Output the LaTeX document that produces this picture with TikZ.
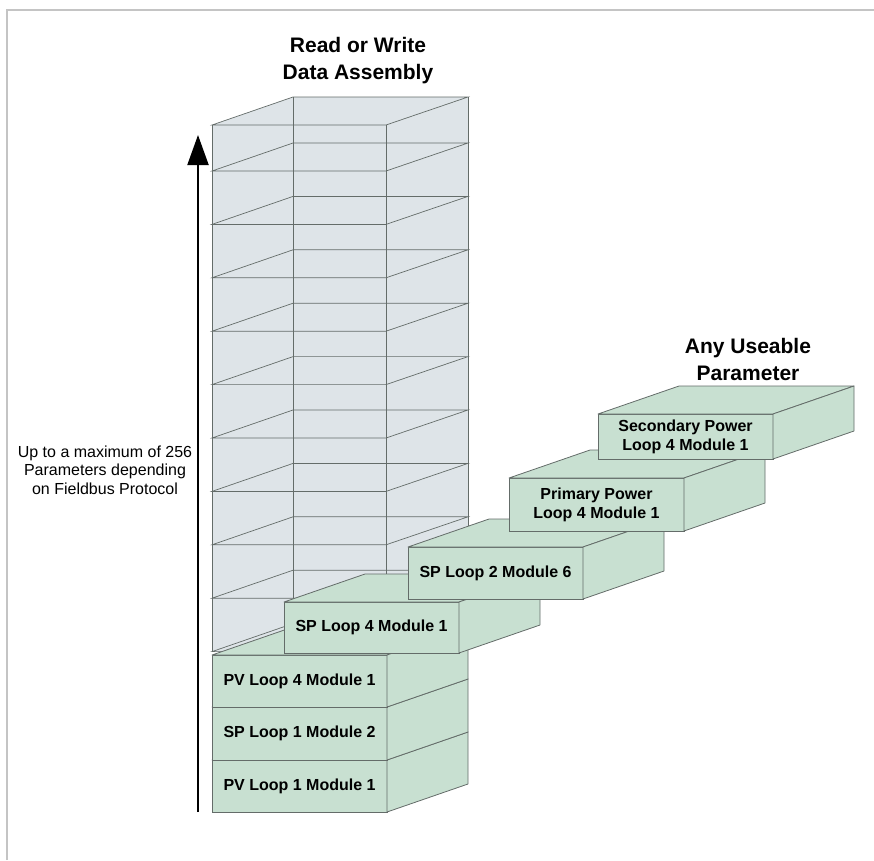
\documentclass[tikz,border=0pt]{standalone}
\usepackage{fontspec}
\setmainfont{Liberation Sans}
\usetikzlibrary{arrows.meta}
\definecolor{cellfill}{RGB}{222,228,232}
\definecolor{boxfill}{RGB}{200,224,209}
\definecolor{edgegray}{RGB}{100,108,105}
\definecolor{framegray}{RGB}{196,196,196}
\tikzset{
  boxfront/.style={draw=edgegray, fill=boxfill, line width=0.8pt, minimum width=175pt,
    inner sep=0pt, outer sep=0pt, align=center, font=\fontsize{16}{19}\selectfont\bfseries},
  boxside/.style={draw=edgegray, fill=boxfill, line width=0.8pt, line join=round},
  cellline/.style={draw=edgegray, line width=0.7pt},
  titletext/.style={align=center, font=\fontsize{21}{27}\selectfont\bfseries, inner sep=0pt},
  sidetext/.style={align=center, font=\fontsize{16}{18.5}\selectfont, inner sep=0pt},
  frameline/.style={draw=framegray, line width=2.5pt},
  bigarrow/.style={line width=2pt, -{Triangle[width=21pt,length=30pt]}}
}
\newcommand{\mycuboid}[5]{%
  \node[boxfront, minimum height=#4pt, anchor=north west] (#1) at (#2,#3) {#5};
  \draw[boxside] (#1.north west) -- ++(81,-28) -- ++(175,0) -- (#1.north east) -- cycle;
  \draw[boxside] (#1.north east) -- ++(81,-28) -- ++(0,#4) -- (#1.south east) -- cycle;
}
\begin{document}
\begin{tikzpicture}[x=1pt,y=-1pt]
\useasboundingbox (0,0) rectangle (874,860);
% frame
\draw[frameline] (7,860) -- (7,10) -- (874,10);
% titles
\node[titletext] (title) at (358,60.5) {Read or Write\\Data Assembly};
\node[titletext] (anytitle) at (748,359) {Any Useable\\Parameter};
% column of cells
\fill[cellfill] (212,125) -- (293,97) -- (468,97) -- (468,624) -- (386,652) -- (212,652) -- cycle;
\draw[cellline] (212,125) -- (212,652);
\draw[cellline] (386,125) -- (386,652);
\draw[cellline] (293,97) -- (293,624);
\draw[cellline] (468,97) -- (468,624);
\foreach \yy in {125,171,224.4,277.8,331.2,384.6,438,491.4,544.8,598.2,651.6}{
  \draw[cellline] (212,\yy) -- (386,\yy) -- (468,\yy-28) -- (293,\yy-28) -- cycle;
}
% arrow and side text
\coordinate (arrowbase) at (198,812);
\coordinate (arrowtip) at (198,135);
\draw[bigarrow] (arrowbase) -- (arrowtip);
\node[sidetext] (sidenote) at (105,470) {Up to a maximum of 256\\Parameters depending\\on Fieldbus Protocol};
% stacked boxes
\mycuboid{pvone}{212}{760}{52}{PV Loop 1 Module 1}
\mycuboid{spone}{212}{707}{53}{SP Loop 1 Module 2}
\mycuboid{pvfour}{212}{655}{52}{PV Loop 4 Module 1}
% staircase boxes
\mycuboid{spfour}{284}{602}{51}{SP Loop 4 Module 1}
\mycuboid{sptwo}{408}{547}{52}{SP Loop 2 Module 6}
\mycuboid{primary}{509}{478}{53}{Primary Power\\Loop 4 Module 1}
\mycuboid{secondary}{598}{414}{45}{Secondary Power\\Loop 4 Module 1}
\end{tikzpicture}
\end{document}
